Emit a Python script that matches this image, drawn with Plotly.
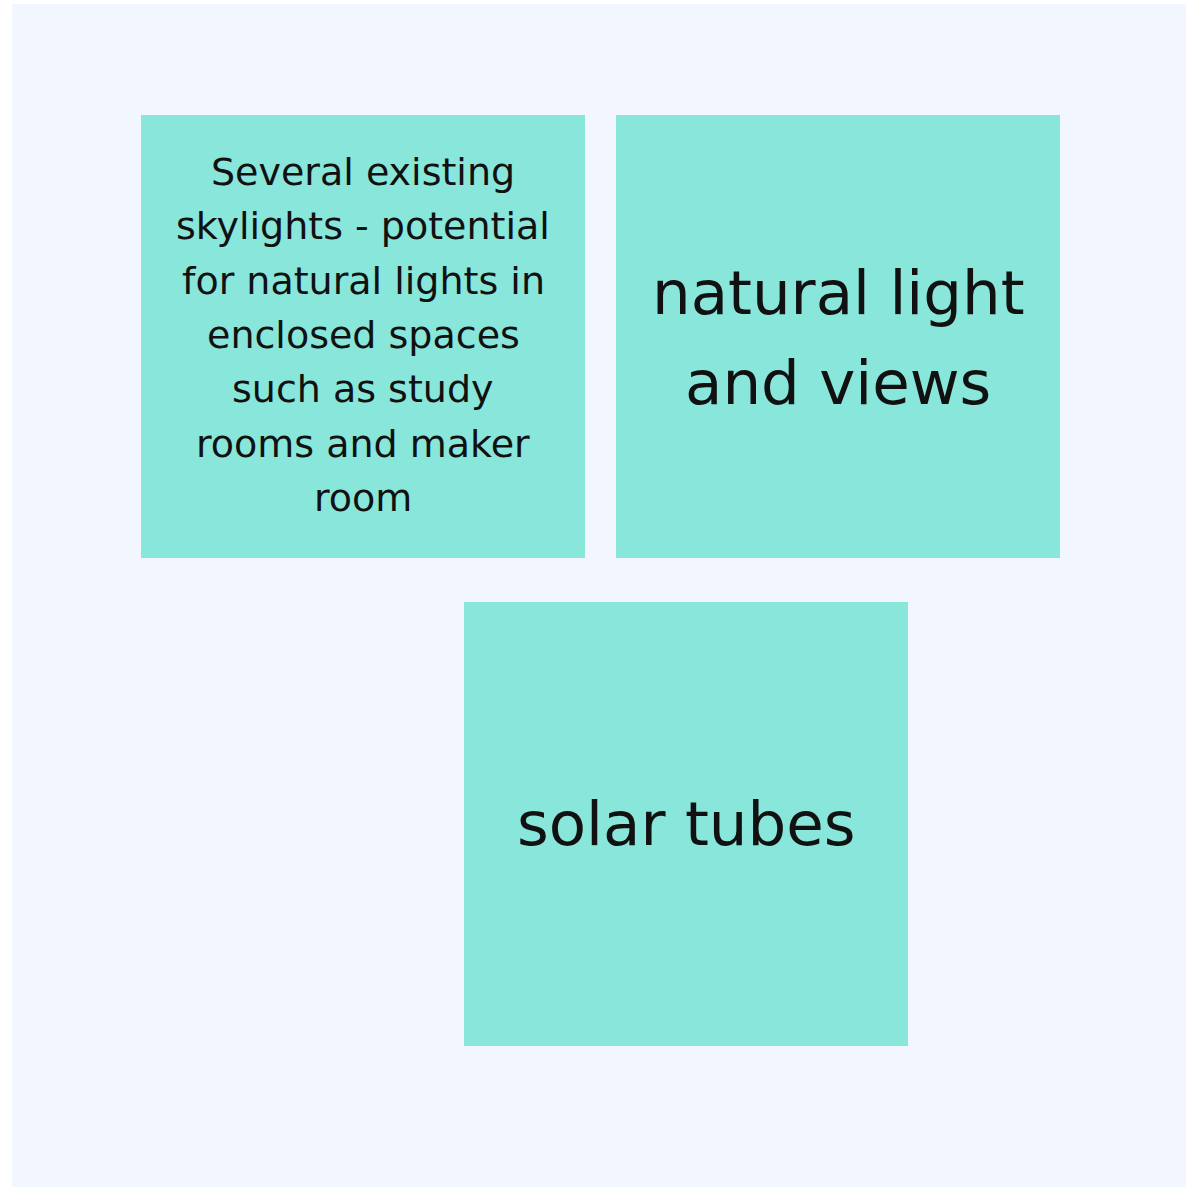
import plotly.graph_objects as go

# Content
note_texts = [
    ["Several existing", "skylights - potential", "for natural lights in",
     "enclosed spaces", "such as study", "rooms and maker", "room"],
    ["natural light", "and views"],
    ["solar tubes"],
]

# Layout (pixels)
W, H = 1186, 1188
PANEL = (12, 4, 1186, 1187)
NOTE_BOXES = [(141, 115, 585, 558), (616, 115, 1060, 558), (464, 602, 908, 1046)]
NOTE_FONT = [38, 61, 61]
NOTE_LINE = [54.3, 90, 90]
NOTE_FIRST = [172, 292, 823]

NOTE_COLOR = "#88E6DB"
PANEL_COLOR = "#F2F6FF"
FONT = "'DejaVu Sans', sans-serif"

fig = go.Figure()
shapes = [dict(type="rect", xref="x", yref="y", x0=PANEL[0], y0=PANEL[1], x1=PANEL[2], y1=PANEL[3],
               fillcolor=PANEL_COLOR, line=dict(width=0), layer="below")]
annotations = []
for i, (box, lines) in enumerate(zip(NOTE_BOXES, note_texts)):
    x0, y0, x1, y1 = box
    shapes.append(dict(type="rect", xref="x", yref="y", x0=x0, y0=y0, x1=x1, y1=y1,
                       fillcolor=NOTE_COLOR, line=dict(width=0), layer="below"))
    cx = (x0 + x1) / 2
    for j, line in enumerate(lines):
        annotations.append(dict(x=cx, y=NOTE_FIRST[i] + j * NOTE_LINE[i], xref="x", yref="y",
                                text=line, showarrow=False, xanchor="center", yanchor="middle",
                                font=dict(family=FONT, size=NOTE_FONT[i], color="#111111")))

fig.update_layout(
    width=W, height=H, margin=dict(l=0, r=0, t=0, b=0),
    paper_bgcolor="white", plot_bgcolor="white",
    xaxis=dict(range=[0, W], visible=False, fixedrange=True),
    yaxis=dict(range=[H, 0], visible=False, fixedrange=True),
    shapes=shapes, annotations=annotations, showlegend=False,
)
fig.write_html("out.html", config=dict(displayModeBar=False),
               post_script="document.body.style.margin='0';document.body.style.overflow='hidden';")
